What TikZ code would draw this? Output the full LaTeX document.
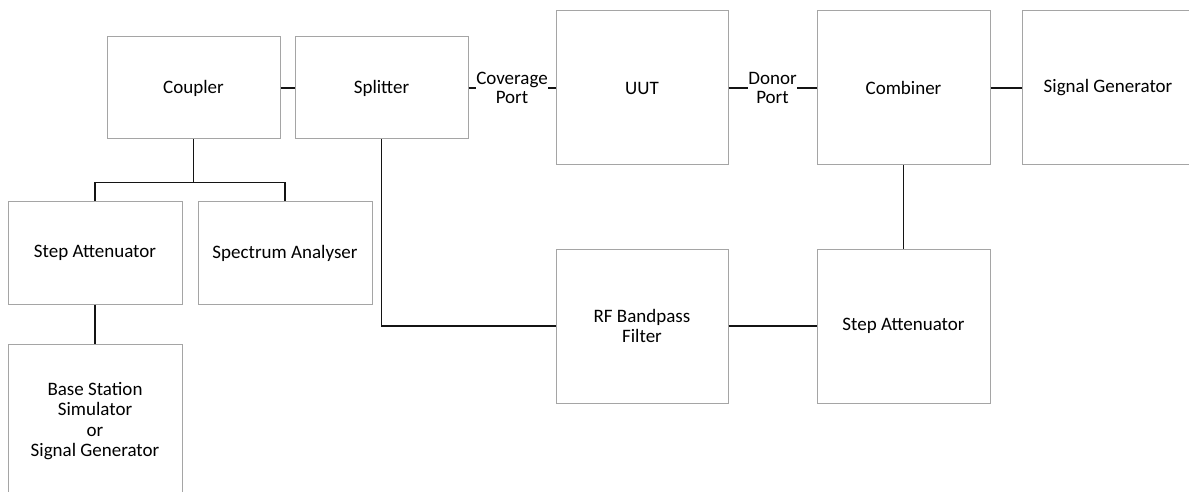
\documentclass[tikz,border=0pt]{standalone}
\usepackage{fontspec}
\setmainfont{Carlito}
\usepackage{xcolor}
\definecolor{boxgray}{RGB}{165,165,165}
\definecolor{wireblack}{RGB}{20,20,20}
\usetikzlibrary{positioning}

\tikzset{
  unit/.style={draw=boxgray, line width=1pt, fill=white, inner sep=2pt,
               font=\fontsize{19}{20.5}\selectfont, align=center},
  wire/.style={draw=wireblack, line width=1.4pt},
  portlabel/.style={fill=white, inner sep=0pt, align=center,
                    font=\fontsize{19}{19.5}\selectfont}
}

\begin{document}
\begin{tikzpicture}[x=1pt, y=1pt]
\useasboundingbox (0,0) rectangle (1189,491);

% Top row
\node[unit, minimum width=173pt, minimum height=102pt] (coupler) at (193.5,403) {Coupler};
\node[unit, minimum width=173pt, minimum height=102pt] (splitter) at (381.5,403) {Splitter};
\node[unit, minimum width=172pt, minimum height=154pt] (uut) at (642,403) {UUT};
\node[unit, minimum width=173pt, minimum height=154pt] (combiner) at (903.5,403) {Combiner};
\node[unit, minimum width=172pt, minimum height=154pt] (siggen) at (1108,403) {Signal Generator};

% Left branch below the coupler
\node[unit, minimum width=174pt, minimum height=103pt] (stepl) at (95,238.5) {Step Attenuator};
\node[unit, minimum width=174pt, minimum height=103pt] (specan) at (285,238) {Spectrum Analyser};
\node[unit, minimum width=174pt, minimum height=154pt] (bss) at (95,70) {Base Station\\Simulator\\or\\Signal Generator};

% Lower return path
\node[unit, minimum width=172pt, minimum height=154pt] (rfbpf) at (642,165) {RF Bandpass\\Filter};
\node[unit, minimum width=173pt, minimum height=154pt] (stepr) at (903.5,165) {Step Attenuator};

% Connectors, top row
\draw[wire] (coupler.east) -- (splitter.west);
\draw[wire] (splitter.east) -- node[portlabel] {Coverage\\Port} (uut.west);
\draw[wire] (uut.east) -- node[portlabel] {Donor\\Port} (combiner.west);
\draw[wire] (combiner.east) -- (siggen.west);

% Coupler fork
\draw[wire] (coupler.south) -- ++(0,-43) coordinate (fork);
\draw[wire] (stepl.north) |- (fork) -| (specan.north);
\draw[wire] (stepl.south) -- (bss.north);

% Splitter to filter to attenuator to combiner
\draw[wire] (splitter.south) |- (rfbpf.west);
\draw[wire] (rfbpf.east) -- (stepr.west);
\draw[wire] (combiner.south) -- (stepr.north);

\end{tikzpicture}
\end{document}
